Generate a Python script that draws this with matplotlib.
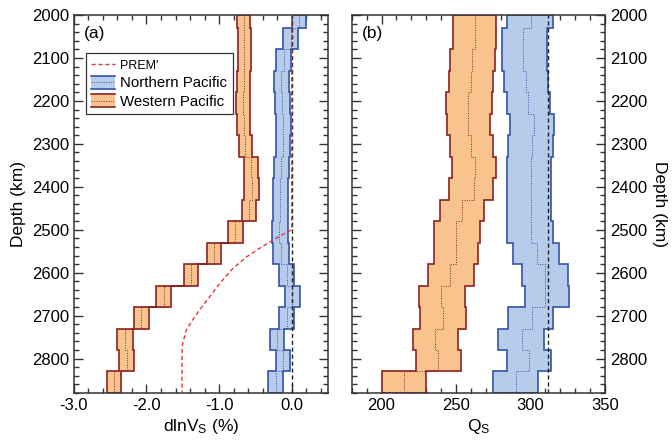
import numpy as np
import matplotlib
matplotlib.use('Agg')
import matplotlib.pyplot as plt
from matplotlib.ticker import MultipleLocator, FormatStrFormatter
from matplotlib.patches import Rectangle
from matplotlib.lines import Line2D
from matplotlib.legend_handler import HandlerBase

plt.rcParams['font.family'] = ['Liberation Sans', 'DejaVu Sans']
plt.rcParams['mathtext.default'] = 'regular'

# layer boundaries (km)
depth_edges = [2000, 2030, 2080, 2130, 2180, 2230, 2280, 2330, 2380, 2430,
               2480, 2530, 2580, 2630, 2680, 2730, 2780, 2830, 2880]

# dlnVs (%) - Western Pacific
wp_vs_lo = [-0.75, -0.74, -0.74, -0.75, -0.76, -0.75, -0.73, -0.66, -0.65, -0.69,
            -0.88, -1.17, -1.49, -1.87, -2.17, -2.40, -2.38, -2.55]
wp_vs_mid = [-0.66, -0.65, -0.65, -0.66, -0.67, -0.66, -0.64, -0.56, -0.55, -0.59,
             -0.78, -1.07, -1.39, -1.76, -2.07, -2.30, -2.27, -2.45]
wp_vs_hi = [-0.57, -0.56, -0.56, -0.57, -0.58, -0.57, -0.55, -0.46, -0.45, -0.49,
            -0.67, -0.98, -1.29, -1.66, -1.96, -2.19, -2.17, -2.35]

# dlnVs (%) - Northern Pacific
np_vs_lo = [0.00, -0.12, -0.21, -0.24, -0.23, -0.22, -0.22, -0.24, -0.26, -0.26,
            -0.27, -0.26, -0.17, -0.09, -0.17, -0.30, -0.22, -0.32]
np_vs_mid = [0.10, -0.01, -0.11, -0.14, -0.13, -0.12, -0.12, -0.14, -0.16, -0.16,
             -0.17, -0.14, -0.07, 0.01, -0.06, -0.20, -0.12, -0.22]
np_vs_hi = [0.20, 0.09, -0.01, -0.03, -0.02, -0.01, -0.02, -0.04, -0.05, -0.05,
            -0.05, -0.04, 0.03, 0.11, 0.03, -0.10, -0.02, -0.12]

# PREM' perturbation
prem_depth = [2000, 2500, 2524, 2543, 2563, 2590, 2625, 2656, 2687, 2714, 2733, 2764, 2775, 2880]
prem_dvs = [0.0, 0.0, -0.26, -0.44, -0.62, -0.81, -0.99, -1.13, -1.27, -1.38, -1.45, -1.50, -1.51, -1.51]

# Qs - Western Pacific
wp_q_lo = [248, 248, 246, 245, 243, 244, 246, 247, 245, 239, 235, 235, 231, 225, 226, 221, 223, 200]
wp_q_mid = [263, 263, 261, 260, 258, 258, 260, 263, 262, 254, 250, 250, 246, 240, 241, 236, 238, 215]
wp_q_hi = [277, 277, 276, 275, 274, 273, 275, 277, 275, 269, 266, 265, 262, 256, 257, 251, 253, 230]

# Qs - Northern Pacific
np_q_lo = [284, 281, 281, 282, 284, 286, 285, 284, 284, 284, 284, 288, 294, 296, 285, 278, 284, 275]
np_q_mid = [300, 295, 295, 297, 298, 302, 301, 300, 300, 300, 300, 304, 310, 310, 301, 294, 299, 290]
np_q_hi = [315, 311, 311, 312, 313, 316, 315, 314, 314, 314, 315, 319, 325, 326, 315, 309, 314, 305]

q_prem = 312

blue_fc, blue_ec = '#b7cbea', '#3453a8'
orng_fc, orng_ec = '#f9c38d', '#8c2222'
dot_ls = (0, (1, 1.5))


class Band:
    def __init__(self, fc, ec):
        self.fc, self.ec = fc, ec


class BandHandler(HandlerBase):
    # filled strip with solid top/bottom edges and a dotted centre line
    def create_artists(self, legend, orig_handle, xdescent, ydescent,
                       width, height, fontsize, trans):
        x0, y0 = -xdescent, -ydescent - 1
        h = height + 2
        rect = Rectangle((x0, y0), width, h, facecolor=orig_handle.fc,
                         edgecolor='none', transform=trans)
        top = Line2D([x0, x0 + width], [y0 + h, y0 + h], color=orig_handle.ec,
                     lw=1.2, transform=trans)
        bot = Line2D([x0, x0 + width], [y0, y0], color=orig_handle.ec,
                     lw=1.2, transform=trans)
        mid = Line2D([x0, x0 + width], [y0 + h / 2, y0 + h / 2],
                     color=orig_handle.ec, lw=0.7, ls=dot_ls, transform=trans)
        return [rect, top, bot, mid]


def draw_band(ax, lo, mid, hi, fc, ec):
    ax.stairs(hi, depth_edges, baseline=lo, fill=True, orientation='horizontal',
              facecolor=fc, edgecolor=ec, lw=1.2, zorder=2)
    ax.stairs(mid, depth_edges, baseline=None, orientation='horizontal',
              color=ec, lw=0.7, ls=dot_ls, zorder=3)


def style_axes(ax):
    ax.set_ylim(2880, 2000)
    ax.yaxis.set_major_locator(MultipleLocator(100))
    ax.yaxis.set_minor_locator(MultipleLocator(20))
    ax.tick_params(which='both', direction='in', top=True, right=True,
                   width=1, color='#333333', labelsize=12)
    ax.tick_params(which='major', length=6.5)
    ax.tick_params(which='minor', length=3.5)
    for s in ax.spines.values():
        s.set_color('#333333')
        s.set_linewidth(1.1)


fig = plt.figure(figsize=(6.72, 4.43), dpi=100)
ax1 = fig.add_axes([0.110, 0.113, 0.378, 0.853])
ax2 = fig.add_axes([0.5234, 0.113, 0.377, 0.853])

# (a) velocity perturbation
draw_band(ax1, np_vs_lo, np_vs_mid, np_vs_hi, blue_fc, blue_ec)
draw_band(ax1, wp_vs_lo, wp_vs_mid, wp_vs_hi, orng_fc, orng_ec)
ax1.axvline(0, color='#222222', ls=(0, (3, 2)), lw=1.0, zorder=4)
ax1.plot(prem_dvs, prem_depth, color='#e03a3a', ls=(0, (3, 2)), lw=1.0, zorder=5)
ax1.set_xlim(-3.0, 0.5)
ax1.xaxis.set_major_locator(MultipleLocator(1.0))
ax1.xaxis.set_minor_locator(MultipleLocator(0.2))
ax1.xaxis.set_major_formatter(FormatStrFormatter('%.1f'))
style_axes(ax1)
ax1.set_xlabel(r'dlnV$_S$ (%)', fontsize=12.5, labelpad=3)
ax1.set_ylabel('Depth (km)', fontsize=12.5, labelpad=4)
ax1.text(0.04, 0.97, '(a)', transform=ax1.transAxes, fontsize=12.5, va='top')

handles = [
    Line2D([], [], color='#e03a3a', ls=(0, (3, 2)), lw=1.0),
    Band(blue_fc, blue_ec),
    Band(orng_fc, orng_ec),
]
leg = ax1.legend(handles, ["PREM'", 'Northern Pacific', 'Western Pacific'],
                 handler_map={Band: BandHandler()},
                 loc='upper left', bbox_to_anchor=(0.047, 0.899), borderaxespad=0,
                 fancybox=False, framealpha=1, edgecolor='#333333', fontsize=10.8,
                 handlelength=1.6, handletextpad=0.35, labelspacing=0.3,
                 borderpad=0.35)
leg.get_frame().set_linewidth(0.9)
leg.get_texts()[0].set_fontsize(9)

# (b) shear attenuation
draw_band(ax2, np_q_lo, np_q_mid, np_q_hi, blue_fc, blue_ec)
draw_band(ax2, wp_q_lo, wp_q_mid, wp_q_hi, orng_fc, orng_ec)
ax2.axvline(q_prem, color='#222222', ls=(0, (3, 2)), lw=1.0, zorder=4)
ax2.set_xlim(180, 350)
ax2.xaxis.set_major_locator(MultipleLocator(50))
ax2.xaxis.set_minor_locator(MultipleLocator(10))
style_axes(ax2)
ax2.tick_params(labelleft=False, labelright=True)
ax2.yaxis.set_label_position('right')
ax2.set_xlabel(r'Q$_S$', fontsize=12.5, labelpad=3)
ax2.set_ylabel('Depth (km)', fontsize=12.5, rotation=270, labelpad=14)
ax2.text(0.04, 0.97, '(b)', transform=ax2.transAxes, fontsize=12.5, va='top')

fig.savefig('out.png', dpi=100)
